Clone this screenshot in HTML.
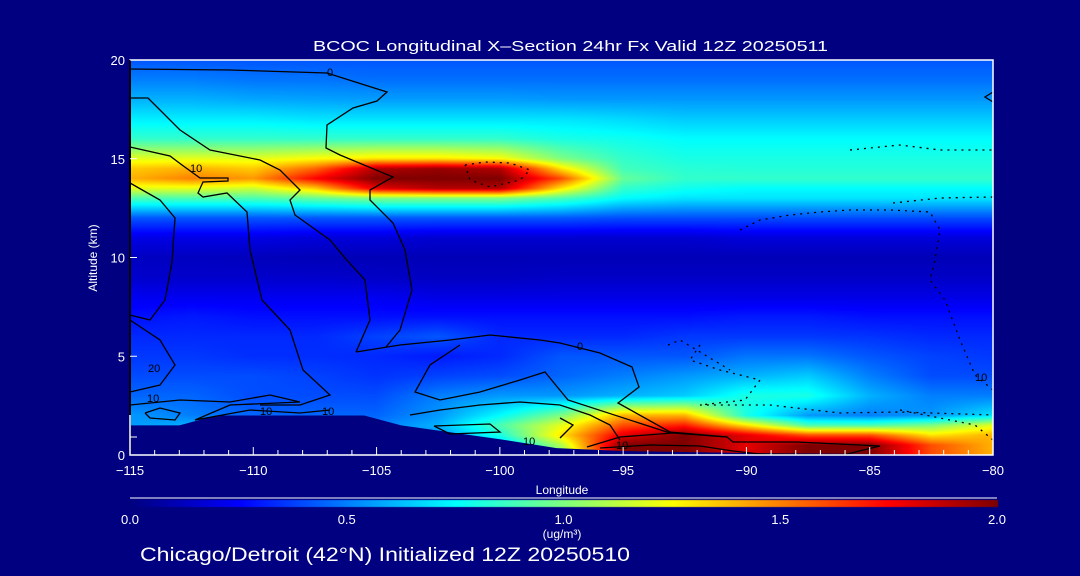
<!DOCTYPE html>
<html><head><meta charset="utf-8"><style>
html,body{margin:0;padding:0;background:#000080;}
#wrap{position:relative;width:1080px;height:576px;background:#000080;overflow:hidden;font-family:"Liberation Sans",sans-serif;color:#fff;}
canvas{position:absolute;left:0;top:0;}
svg{position:absolute;left:0;top:0;}
</style></head><body>
<div id="wrap">
<canvas id="cv" width="1080" height="576"></canvas>
<svg id="sv" width="1080" height="576"></svg>
</div>
<script>
// ---- data ----
const lons = [-115,-112.5,-110,-107.5,-105,-102.5,-100,-97.5,-95,-92.5,-90,-87.5,-85,-82.5,-80];
const alts = [0,0.5,1,1.5,2,3,4,5,6,7,8,9,10,11,12,13,13.5,14,14.5,15,16,17,18,19,20];
const bcoc = [
 [0.5,0.5,0.5,0.5,0.5,0.5,0.6,1.0,2.0,2.0,1.8,2.0,2.0,1.6,1.4],
 [0.5,0.5,0.5,0.5,0.5,0.5,0.6,1.1,2.0,2.0,1.8,2.0,2.0,1.6,1.4],
 [0.5,0.5,0.5,0.5,0.5,0.55,0.8,1.3,1.8,2.0,1.8,1.6,1.6,1.3,1.4],
 [0.55,0.6,0.55,0.5,0.5,0.6,0.9,1.2,1.6,1.7,1.3,0.9,0.9,1.0,1.2],
 [0.55,0.5,0.45,0.45,0.45,0.55,0.75,1.0,1.4,1.4,0.8,0.55,0.5,0.55,0.7],
 [0.45,0.45,0.4,0.4,0.4,0.5,0.55,0.55,0.6,0.65,0.8,0.8,0.6,0.5,0.5],
 [0.4,0.4,0.4,0.38,0.35,0.38,0.4,0.45,0.5,0.55,0.6,0.65,0.5,0.4,0.4],
 [0.36,0.36,0.34,0.34,0.33,0.3,0.33,0.42,0.42,0.42,0.48,0.48,0.42,0.38,0.36],
 [0.33,0.33,0.33,0.33,0.38,0.42,0.33,0.33,0.33,0.36,0.36,0.36,0.35,0.33,0.33],
 [0.28,0.3,0.28,0.28,0.28,0.28,0.28,0.28,0.28,0.28,0.3,0.3,0.28,0.28,0.28],
 [0.22,0.22,0.22,0.22,0.22,0.2,0.2,0.2,0.2,0.2,0.2,0.2,0.2,0.2,0.2],
 [0.15,0.15,0.15,0.15,0.14,0.13,0.13,0.14,0.14,0.14,0.14,0.14,0.14,0.14,0.14],
 [0.13,0.13,0.12,0.11,0.11,0.11,0.11,0.11,0.11,0.11,0.11,0.11,0.11,0.11,0.11],
 [0.2,0.2,0.2,0.18,0.18,0.16,0.16,0.16,0.16,0.16,0.18,0.18,0.18,0.18,0.18],
 [0.42,0.42,0.42,0.42,0.42,0.42,0.42,0.42,0.4,0.4,0.4,0.4,0.4,0.4,0.4],
 [0.9,0.9,0.9,0.95,1.0,1.0,1.0,0.9,0.75,0.7,0.7,0.7,0.7,0.7,0.7],
 [1.2,1.2,1.15,1.35,1.8,1.9,1.9,1.3,0.85,0.78,0.75,0.75,0.75,0.75,0.75],
 [1.4,1.5,1.45,1.75,2.0,2.0,2.0,1.6,0.95,0.85,0.85,0.85,0.85,0.85,0.85],
 [1.35,1.4,1.35,1.55,1.9,1.95,1.9,1.3,0.88,0.83,0.82,0.82,0.82,0.82,0.82],
 [1.2,1.2,1.2,1.25,1.3,1.3,1.25,1.0,0.85,0.8,0.8,0.8,0.8,0.8,0.8],
 [0.85,0.85,0.85,0.85,0.85,0.85,0.85,0.8,0.78,0.75,0.75,0.75,0.75,0.75,0.75],
 [0.72,0.72,0.72,0.7,0.7,0.7,0.7,0.7,0.68,0.65,0.65,0.65,0.65,0.65,0.65],
 [0.6,0.6,0.58,0.57,0.56,0.56,0.56,0.55,0.55,0.55,0.55,0.55,0.55,0.55,0.55],
 [0.5,0.5,0.48,0.48,0.47,0.47,0.47,0.47,0.47,0.47,0.47,0.47,0.47,0.47,0.47],
 [0.42,0.42,0.42,0.42,0.42,0.42,0.42,0.42,0.42,0.42,0.42,0.42,0.42,0.42,0.42]
];
const terrainLon = [-115,-113,-111.5,-105.5,-104,-100,-97.7,-95,-90,-80];
const terrainAlt = [1.5,1.5,2.0,2.0,1.5,0.8,0.35,0.2,0.1,0.0];
const xTicks = [-115,-110,-105,-100,-95,-90,-85,-80];
const yTicks = [0,5,10,15,20];
const cbTicks = [0.0,0.5,1.0,1.5,2.0];

// ---- axes ----
const X0=130,X1=993,Y0=455,Y1=60;
const xs = l => X0 + (l+115)/35*(X1-X0);
const ys = a => Y0 - a/20*(Y0-Y1);
function jet(v){
  let t=Math.max(0,Math.min(1,v/2));
  const f=(x)=>Math.max(0,Math.min(1,x));
  const r=f(1.5-Math.abs(4*t-3)), g=f(1.5-Math.abs(4*t-2)), b=f(1.5-Math.abs(4*t-1));
  return [r*255|0,g*255|0,b*255|0];
}
function idx(arr,v){for(let i=0;i<arr.length-1;i++){if(v<=arr[i+1])return i;}return arr.length-2;}
function sample(lon,alt){
  const i=idx(lons,lon), j=idx(alts,alt);
  const tx=(lon-lons[i])/(lons[i+1]-lons[i]), ty=(alt-alts[j])/(alts[j+1]-alts[j]);
  const a=bcoc[j][i],b=bcoc[j][i+1],c=bcoc[j+1][i],d=bcoc[j+1][i+1];
  return (a*(1-tx)+b*tx)*(1-ty)+(c*(1-tx)+d*tx)*ty;
}
const cv=document.getElementById('cv'), ctx=cv.getContext('2d');
const img=ctx.createImageData(X1-X0,Y0-Y1);
for(let py=0;py<Y0-Y1;py++){
  const alt=(Y0-(Y1+py+0.5))/(Y0-Y1)*20;
  for(let px=0;px<X1-X0;px++){
    const lon=-115+(px+0.5)/(X1-X0)*35;
    const c=jet(sample(lon,alt));
    const k=(py*(X1-X0)+px)*4;
    img.data[k]=c[0];img.data[k+1]=c[1];img.data[k+2]=c[2];img.data[k+3]=255;
  }
}
ctx.putImageData(img,X0,Y1);
// colorbar
for(let px=0;px<=997-130;px++){
  const c=jet(px/(997-130)*2);
  ctx.fillStyle=`rgb(${c[0]},${c[1]},${c[2]})`;
  ctx.fillRect(130+px,500,1,7);
}
const NS='http://www.w3.org/2000/svg';
const sv=document.getElementById('sv');
function mk(tag,attrs,parent){const e=document.createElementNS(NS,tag);for(const k in attrs)e.setAttribute(k,attrs[k]);(parent||sv).appendChild(e);return e;}
// terrain
let tp=terrainLon.map((l,i)=>xs(l)+','+ys(terrainAlt[i])).join(' ');
tp+=' '+xs(-80)+','+Y0+' '+xs(-115)+','+Y0;
const terr=mk('polygon',{points:tp,fill:'#000080'});


// contours (pixel coords, decorative)
const contours=[
 "130,69 230,70 327,73 387,92 377,101 353,108 327,125 326,148 340,155 393,177 370,190 370,200 393,223 405,250 412,290 400,330 386,347",
 "130,98 148,98 160,110 180,130 210,150 260,160 280,170 300,190 290,200 295,215 330,240 345,258 365,280 370,320 356,352",
 "130,147 170,156 182,165 200,178 228,178 228,181 203,182 198,193 203,197 227,193 247,212 250,250 262,300 290,330 303,370 330,395 300,405 260,405",
 "130,183 160,200 175,218 172,262 165,300 150,320 130,315",
 "130,320 160,340 175,365 160,385 130,392",
 "130,405 180,400 230,402 270,395 300,402 230,405 195,420 250,410 300,413 330,410",
 "145,413 160,408 180,413 175,420 150,418 145,413",
 "356,352 400,345 450,340 490,335 540,340 560,343 600,353 632,367 639,387 618,403 670,432 727,437",
 "460,345 430,365 415,392 440,400 480,392 520,380 545,372 568,400 670,433",
 "560,418 573,425 560,438",
 "410,415 440,410 480,405 520,402 560,405 590,415 610,425 620,440",
 "434,426 490,424 500,432 450,434 434,426",
 "587,447 620,437 673,433 727,437 733,442 797,442 880,446 843,455 760,454 733,451 700,446 650,445 600,448",
 "993,92 985,97 993,102"
];
contours.forEach((p,i)=>{const e=mk('polyline',{points:p,fill:'none',stroke:'#000','stroke-width':1.3});
 
 });
const dotted=[
 "465,165 485,162 510,163 530,170 520,180 490,187 470,180 465,165",
 "850,150 900,145 940,150 993,150",
 "893,203 940,198 993,197",
 "740,230 760,220 790,215 820,212 850,210 890,210 930,212 940,230 935,260 930,280 945,300 960,340 975,375 993,390",
 "700,345 690,360 720,370 760,380 745,400 700,405 770,405 840,413 900,412 993,415",
 "668,345 680,340 730,370",
 "900,410 950,420 975,425 993,440"
];
dotted.forEach((p,i)=>{const e=mk('polyline',{points:p,fill:'none',stroke:'#000','stroke-width':1.3,'stroke-dasharray':'2,5'});
 
 });
const clabels=[[327,76,'0'],[190,172,'10'],[148,372,'20'],[147,402,'10'],[260,415,'10'],[322,415,'10'],[523,445,'10'],[577,350,'0'],[975,381,'10'],[616,449,'10']];
clabels.forEach(c=>{const e=mk('text',{x:c[0],y:c[1],'font-size':11,fill:'#000','font-family':'Liberation Sans, sans-serif'});e.textContent=c[2];
 
 });
// frame
const fr=mk('rect',{x:X0,y:Y1,width:X1-X0,height:Y0-Y1,fill:'none',stroke:'#fff','stroke-width':1.5});


mk('line',{x1:X0,y1:Y1,x2:X0,y2:Y0,stroke:'#000','stroke-width':2});
mk('line',{x1:X0,y1:415,x2:X0,y2:Y0,stroke:'#fff','stroke-width':1.5});
// x ticks
for(let l=-115;l<=-80;l++){mk('line',{x1:xs(l),y1:Y0,x2:xs(l),y2:Y0-(l%5===0?8:5),stroke:'#fff','stroke-width':1});}
xTicks.forEach(l=>{const t=mk('text',{x:xs(l),y:475,'font-size':13,fill:'#fff','text-anchor':'middle'});t.textContent=(l<0?'\u2212'+(-l):l);
 
 });
yTicks.forEach(a=>{const t=mk('text',{x:125,y:ys(a)+5,'font-size':13,fill:'#fff','text-anchor':'end'});t.textContent=a;
 
 
 mk('line',{x1:X0,y1:ys(a),x2:X0+7,y2:ys(a),stroke:'#fff'});});
mk('line',{x1:X0,y1:437,x2:X0+7,y2:437,stroke:'#fff'});
function txt(x,y,s,size,name,extra){const t=mk('text',Object.assign({x:x,y:y,'font-size':size,fill:'#fff','text-anchor':'middle'},extra||{}));t.textContent=s;
 
 return t;}
txt(313,51,'BCOC Longitudinal X\u2013Section 24hr  Fx Valid 12Z 20250511',15,'chart-title',{'text-anchor':'start',textLength:515,lengthAdjust:'spacingAndGlyphs'});
txt(562,494,'Longitude',12,'x-axis-title');
txt(0,0,'Altitude (km)',12,'y-axis-title',{transform:'translate(97,258) rotate(-90)'});
mk('line',{x1:130,y1:498,x2:997,y2:498,stroke:'#fff'});
cbTicks.forEach(v=>{const t=txt(130+v/2*(997-130),524,v.toFixed(1),13,'colorbar-tick-label');});
txt(562,538,'(ug/m\u00B3)',12,'colorbar-units');
txt(140,561,'Chicago/Detroit (42\u00B0N) Initialized 12Z 20250510',19,'footer-text',{'text-anchor':'start',textLength:490,lengthAdjust:'spacingAndGlyphs'});
</script>
</body></html>
